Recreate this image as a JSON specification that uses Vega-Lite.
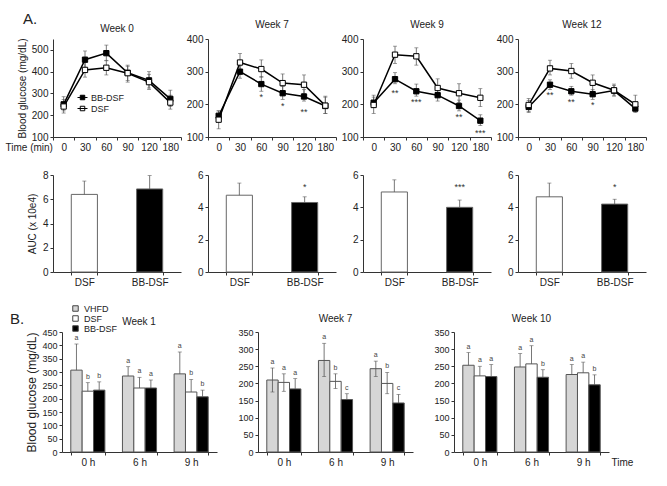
{
 "$schema": "https://vega.github.io/schema/vega-lite/v6.json",
 "padding": {"top": 12, "left": 5, "right": 5, "bottom": 5},
 "title": {"text": "A.", "anchor": "start", "fontSize": 15, "offset": -7, "dx": 18, "color": "#222"},
 "config": {
  "font": "Liberation Sans",
  "view": {"stroke": null},
  "axis": {"grid": false, "domainColor": "#333", "tickColor": "#333", "labelColor": "#222", "titleColor": "#222", "tickSize": 3, "labelFontSize": 10, "titleFontSize": 10, "titleFontWeight": "normal", "labelPadding": 2, "labelOverlap": false},
  "title": {"fontSize": 10, "fontWeight": "normal", "color": "#222", "offset": 0},
  "legend": {"labelFontSize": 9, "labelColor": "#222"}
 },
 "datasets": {
  "lines": [
   {"week":0,"time":0,"group":"BB-DSF","value":250,"lo":220,"hi":285},
   {"week":0,"time":30,"group":"BB-DSF","value":455,"lo":420,"hi":495},
   {"week":0,"time":60,"group":"BB-DSF","value":485,"lo":450,"hi":522},
   {"week":0,"time":90,"group":"BB-DSF","value":395,"lo":360,"hi":430},
   {"week":0,"time":120,"group":"BB-DSF","value":360,"lo":325,"hi":400},
   {"week":0,"time":180,"group":"BB-DSF","value":275,"lo":240,"hi":315},
   {"week":0,"time":0,"group":"DSF","value":240,"lo":210,"hi":272},
   {"week":0,"time":30,"group":"DSF","value":408,"lo":375,"hi":445},
   {"week":0,"time":60,"group":"DSF","value":418,"lo":385,"hi":452},
   {"week":0,"time":90,"group":"DSF","value":393,"lo":352,"hi":425},
   {"week":0,"time":120,"group":"DSF","value":352,"lo":318,"hi":388},
   {"week":0,"time":180,"group":"DSF","value":258,"lo":228,"hi":292},
   {"week":7,"time":0,"group":"BB-DSF","value":165,"lo":150,"hi":180},
   {"week":7,"time":30,"group":"BB-DSF","value":300,"lo":280,"hi":318},
   {"week":7,"time":60,"group":"BB-DSF","value":262,"lo":240,"hi":285,"star":"*","stary":222},
   {"week":7,"time":90,"group":"BB-DSF","value":234,"lo":215,"hi":255,"star":"*","stary":195},
   {"week":7,"time":120,"group":"BB-DSF","value":224,"lo":210,"hi":245,"star":"**","stary":178},
   {"week":7,"time":180,"group":"BB-DSF","value":195,"lo":172,"hi":222},
   {"week":7,"time":0,"group":"DSF","value":153,"lo":125,"hi":180},
   {"week":7,"time":30,"group":"DSF","value":328,"lo":298,"hi":356},
   {"week":7,"time":60,"group":"DSF","value":308,"lo":283,"hi":336},
   {"week":7,"time":90,"group":"DSF","value":265,"lo":240,"hi":293},
   {"week":7,"time":120,"group":"DSF","value":260,"lo":233,"hi":290},
   {"week":7,"time":180,"group":"DSF","value":196,"lo":172,"hi":225},
   {"week":9,"time":0,"group":"BB-DSF","value":205,"lo":190,"hi":228},
   {"week":9,"time":30,"group":"BB-DSF","value":277,"lo":263,"hi":297,"star":"**","stary":235},
   {"week":9,"time":60,"group":"BB-DSF","value":240,"lo":225,"hi":262,"star":"***","stary":207},
   {"week":9,"time":90,"group":"BB-DSF","value":228,"lo":210,"hi":250},
   {"week":9,"time":120,"group":"BB-DSF","value":195,"lo":180,"hi":213,"star":"**","stary":160},
   {"week":9,"time":180,"group":"BB-DSF","value":150,"lo":135,"hi":168,"star":"***","stary":112},
   {"week":9,"time":0,"group":"DSF","value":198,"lo":172,"hi":222},
   {"week":9,"time":30,"group":"DSF","value":352,"lo":325,"hi":378},
   {"week":9,"time":60,"group":"DSF","value":347,"lo":320,"hi":373},
   {"week":9,"time":90,"group":"DSF","value":250,"lo":225,"hi":278},
   {"week":9,"time":120,"group":"DSF","value":234,"lo":205,"hi":263},
   {"week":9,"time":180,"group":"DSF","value":220,"lo":193,"hi":248},
   {"week":12,"time":0,"group":"BB-DSF","value":192,"lo":175,"hi":212},
   {"week":12,"time":30,"group":"BB-DSF","value":260,"lo":245,"hi":275,"star":"**","stary":228},
   {"week":12,"time":60,"group":"BB-DSF","value":240,"lo":228,"hi":255,"star":"**","stary":208},
   {"week":12,"time":90,"group":"BB-DSF","value":231,"lo":215,"hi":245,"star":"*","stary":199},
   {"week":12,"time":120,"group":"BB-DSF","value":242,"lo":228,"hi":258},
   {"week":12,"time":180,"group":"BB-DSF","value":187,"lo":175,"hi":200},
   {"week":12,"time":0,"group":"DSF","value":198,"lo":178,"hi":218},
   {"week":12,"time":30,"group":"DSF","value":310,"lo":290,"hi":335},
   {"week":12,"time":60,"group":"DSF","value":302,"lo":280,"hi":325},
   {"week":12,"time":90,"group":"DSF","value":266,"lo":240,"hi":290},
   {"week":12,"time":120,"group":"DSF","value":243,"lo":225,"hi":262},
   {"week":12,"time":180,"group":"DSF","value":200,"lo":180,"hi":228}
  ],
  "auc": [
   {"week":0,"group":"DSF","value":6.4,"hi":7.5},
   {"week":0,"group":"BB-DSF","value":6.85,"hi":7.95},
   {"week":7,"group":"DSF","value":4.75,"hi":5.5},
   {"week":7,"group":"BB-DSF","value":4.3,"hi":4.65,"star":"*","stary":5.25},
   {"week":9,"group":"DSF","value":4.95,"hi":5.7},
   {"week":9,"group":"BB-DSF","value":4.0,"hi":4.45,"star":"***","stary":5.25},
   {"week":12,"group":"DSF","value":4.65,"hi":5.5},
   {"week":12,"group":"BB-DSF","value":4.2,"hi":4.5,"star":"*","stary":5.25}
  ],
  "bars": [
   {"week":1,"time":"0 h","group":"VHFD","value":307,"lo":307,"hi":405,"letter":"a"},
   {"week":1,"time":"0 h","group":"DSF","value":228,"lo":228,"hi":260,"letter":"b"},
   {"week":1,"time":"0 h","group":"BB-DSF","value":232,"lo":232,"hi":263,"letter":"b"},
   {"week":1,"time":"6 h","group":"VHFD","value":285,"lo":285,"hi":320,"letter":"a"},
   {"week":1,"time":"6 h","group":"DSF","value":240,"lo":240,"hi":280,"letter":"a"},
   {"week":1,"time":"6 h","group":"BB-DSF","value":240,"lo":240,"hi":270,"letter":"a"},
   {"week":1,"time":"9 h","group":"VHFD","value":293,"lo":293,"hi":375,"letter":"a"},
   {"week":1,"time":"9 h","group":"DSF","value":225,"lo":225,"hi":272,"letter":"b"},
   {"week":1,"time":"9 h","group":"BB-DSF","value":207,"lo":207,"hi":232,"letter":"b"},
   {"week":7,"time":"0 h","group":"VHFD","value":210,"lo":175,"hi":245,"letter":"a"},
   {"week":7,"time":"0 h","group":"DSF","value":203,"lo":177,"hi":228,"letter":"a"},
   {"week":7,"time":"0 h","group":"BB-DSF","value":184,"lo":184,"hi":214,"letter":"a"},
   {"week":7,"time":"6 h","group":"VHFD","value":267,"lo":220,"hi":317,"letter":"a"},
   {"week":7,"time":"6 h","group":"DSF","value":206,"lo":185,"hi":228,"letter":"b"},
   {"week":7,"time":"6 h","group":"BB-DSF","value":153,"lo":153,"hi":170,"letter":"c"},
   {"week":7,"time":"9 h","group":"VHFD","value":243,"lo":220,"hi":265,"letter":"a"},
   {"week":7,"time":"9 h","group":"DSF","value":200,"lo":170,"hi":232,"letter":"b"},
   {"week":7,"time":"9 h","group":"BB-DSF","value":143,"lo":143,"hi":168,"letter":"c"},
   {"week":10,"time":"0 h","group":"VHFD","value":253,"lo":253,"hi":290,"letter":"a"},
   {"week":10,"time":"0 h","group":"DSF","value":222,"lo":222,"hi":250,"letter":"a"},
   {"week":10,"time":"0 h","group":"BB-DSF","value":220,"lo":220,"hi":255,"letter":"a"},
   {"week":10,"time":"6 h","group":"VHFD","value":248,"lo":248,"hi":287,"letter":"a"},
   {"week":10,"time":"6 h","group":"DSF","value":257,"lo":257,"hi":310,"letter":"a"},
   {"week":10,"time":"6 h","group":"BB-DSF","value":218,"lo":218,"hi":240,"letter":"b"},
   {"week":10,"time":"9 h","group":"VHFD","value":226,"lo":226,"hi":255,"letter":"a"},
   {"week":10,"time":"9 h","group":"DSF","value":231,"lo":231,"hi":262,"letter":"a"},
   {"week":10,"time":"9 h","group":"BB-DSF","value":196,"lo":196,"hi":225,"letter":"b"}
  ]
 },
 "resolve": {"scale": {"fill": "independent"}, "legend": {"fill": "independent"}},
 "spacing": 17,
 "vconcat": [
  {
   "columns": 4,
   "spacing": {"row": 18, "column": 4},
   "resolve": {"scale": {"fill": "independent"}, "legend": {"fill": "independent"}},
   "concat": [
    {
     "width": 128, "height": 98, "title": "Week 0",
     "data": {"name": "lines"}, "transform": [{"filter": "datum.week == 0"}],
     "encoding": {"x": {"field": "time", "type": "ordinal", "bandPosition": 0.5, "scale": {"type": "band", "paddingInner": 0, "paddingOuter": 0}, "axis": {"title": "Time (min)", "labelAngle": 0, "tickBand": "extent", "titleX": -48, "titleY": 10, "titleAlign": "left", "titleBaseline": "middle"}}},
     "layer": [
      {"mark": {"type": "rule", "color": "#555", "strokeWidth": 0.8}, "encoding": {"y": {"field": "lo", "type": "quantitative", "scale": {"domain": [100, 550], "nice": false, "zero": false}, "axis": {"title": "Blood glucose (mg/dL)", "values": [100, 200, 300, 400, 500], "titlePadding": 4}}, "y2": {"field": "hi"}}},
      {"mark": {"type": "tick", "color": "#555", "thickness": 0.8, "size": 4}, "encoding": {"y": {"field": "hi", "type": "quantitative", "scale": {"domain": [100, 550], "nice": false, "zero": false}, "axis": {"title": "Blood glucose (mg/dL)", "values": [100, 200, 300, 400, 500], "titlePadding": 4}}}},
      {"mark": {"type": "tick", "color": "#555", "thickness": 0.8, "size": 4}, "encoding": {"y": {"field": "lo", "type": "quantitative", "scale": {"domain": [100, 550], "nice": false, "zero": false}, "axis": {"title": "Blood glucose (mg/dL)", "values": [100, 200, 300, 400, 500], "titlePadding": 4}}}},
      {"mark": {"type": "line", "color": "black", "strokeWidth": 1.5}, "encoding": {"y": {"field": "value", "type": "quantitative", "scale": {"domain": [100, 550], "nice": false, "zero": false}, "axis": {"title": "Blood glucose (mg/dL)", "values": [100, 200, 300, 400, 500], "titlePadding": 4}}, "detail": {"field": "group"}}},
      {"mark": {"type": "square", "size": 28, "stroke": "black", "strokeWidth": 1, "opacity": 1}, "encoding": {"y": {"field": "value", "type": "quantitative", "scale": {"domain": [100, 550], "nice": false, "zero": false}, "axis": {"title": "Blood glucose (mg/dL)", "values": [100, 200, 300, 400, 500], "titlePadding": 4}}, "fill": {"field": "group", "type": "nominal", "scale": {"domain": ["BB-DSF", "DSF"], "range": ["black", "white"]}, "legend": {"title": null, "orient": "none", "legendX": 24, "legendY": 53, "symbolType": "M-1,0H1M-0.45,-0.45H0.45V0.45H-0.45Z", "symbolSize": 100, "symbolStrokeColor": "black", "symbolStrokeWidth": 1, "rowPadding": -1, "labelOffset": 3}}}},
      {"transform": [{"filter": "isValid(datum.stary)"}], "mark": {"type": "text", "fontSize": 9, "color": "#333"}, "encoding": {"y": {"field": "stary", "type": "quantitative", "scale": {"domain": [100, 550], "nice": false, "zero": false}, "axis": {"title": "Blood glucose (mg/dL)", "values": [100, 200, 300, 400, 500], "titlePadding": 4}}, "text": {"field": "star"}}}
     ]
    },
    {
     "width": 128, "height": 98, "title": "Week 7",
     "data": {"name": "lines"}, "transform": [{"filter": "datum.week == 7"}],
     "encoding": {"x": {"field": "time", "type": "ordinal", "bandPosition": 0.5, "scale": {"type": "band", "paddingInner": 0, "paddingOuter": 0}, "axis": {"title": null, "labelAngle": 0, "tickBand": "extent"}}},
     "layer": [
      {"mark": {"type": "rule", "color": "#555", "strokeWidth": 0.8}, "encoding": {"y": {"field": "lo", "type": "quantitative", "scale": {"domain": [100, 400], "nice": false, "zero": false}, "axis": {"title": null, "values": [100, 200, 300, 400]}}, "y2": {"field": "hi"}}},
      {"mark": {"type": "tick", "color": "#555", "thickness": 0.8, "size": 4}, "encoding": {"y": {"field": "hi", "type": "quantitative", "scale": {"domain": [100, 400], "nice": false, "zero": false}, "axis": {"title": null, "values": [100, 200, 300, 400]}}}},
      {"mark": {"type": "tick", "color": "#555", "thickness": 0.8, "size": 4}, "encoding": {"y": {"field": "lo", "type": "quantitative", "scale": {"domain": [100, 400], "nice": false, "zero": false}, "axis": {"title": null, "values": [100, 200, 300, 400]}}}},
      {"mark": {"type": "line", "color": "black", "strokeWidth": 1.5}, "encoding": {"y": {"field": "value", "type": "quantitative", "scale": {"domain": [100, 400], "nice": false, "zero": false}, "axis": {"title": null, "values": [100, 200, 300, 400]}}, "detail": {"field": "group"}}},
      {"mark": {"type": "square", "size": 28, "stroke": "black", "strokeWidth": 1, "opacity": 1}, "encoding": {"y": {"field": "value", "type": "quantitative", "scale": {"domain": [100, 400], "nice": false, "zero": false}, "axis": {"title": null, "values": [100, 200, 300, 400]}}, "fill": {"field": "group", "type": "nominal", "scale": {"domain": ["BB-DSF", "DSF"], "range": ["black", "white"]}, "legend": null}}},
      {"transform": [{"filter": "isValid(datum.stary)"}], "mark": {"type": "text", "fontSize": 9, "color": "#333"}, "encoding": {"y": {"field": "stary", "type": "quantitative", "scale": {"domain": [100, 400], "nice": false, "zero": false}, "axis": {"title": null, "values": [100, 200, 300, 400]}}, "text": {"field": "star"}}}
     ]
    },
    {
     "width": 128, "height": 98, "title": "Week 9",
     "data": {"name": "lines"}, "transform": [{"filter": "datum.week == 9"}],
     "encoding": {"x": {"field": "time", "type": "ordinal", "bandPosition": 0.5, "scale": {"type": "band", "paddingInner": 0, "paddingOuter": 0}, "axis": {"title": null, "labelAngle": 0, "tickBand": "extent"}}},
     "layer": [
      {"mark": {"type": "rule", "color": "#555", "strokeWidth": 0.8}, "encoding": {"y": {"field": "lo", "type": "quantitative", "scale": {"domain": [100, 400], "nice": false, "zero": false}, "axis": {"title": null, "values": [100, 200, 300, 400]}}, "y2": {"field": "hi"}}},
      {"mark": {"type": "tick", "color": "#555", "thickness": 0.8, "size": 4}, "encoding": {"y": {"field": "hi", "type": "quantitative", "scale": {"domain": [100, 400], "nice": false, "zero": false}, "axis": {"title": null, "values": [100, 200, 300, 400]}}}},
      {"mark": {"type": "tick", "color": "#555", "thickness": 0.8, "size": 4}, "encoding": {"y": {"field": "lo", "type": "quantitative", "scale": {"domain": [100, 400], "nice": false, "zero": false}, "axis": {"title": null, "values": [100, 200, 300, 400]}}}},
      {"mark": {"type": "line", "color": "black", "strokeWidth": 1.5}, "encoding": {"y": {"field": "value", "type": "quantitative", "scale": {"domain": [100, 400], "nice": false, "zero": false}, "axis": {"title": null, "values": [100, 200, 300, 400]}}, "detail": {"field": "group"}}},
      {"mark": {"type": "square", "size": 28, "stroke": "black", "strokeWidth": 1, "opacity": 1}, "encoding": {"y": {"field": "value", "type": "quantitative", "scale": {"domain": [100, 400], "nice": false, "zero": false}, "axis": {"title": null, "values": [100, 200, 300, 400]}}, "fill": {"field": "group", "type": "nominal", "scale": {"domain": ["BB-DSF", "DSF"], "range": ["black", "white"]}, "legend": null}}},
      {"transform": [{"filter": "isValid(datum.stary)"}], "mark": {"type": "text", "fontSize": 9, "color": "#333"}, "encoding": {"y": {"field": "stary", "type": "quantitative", "scale": {"domain": [100, 400], "nice": false, "zero": false}, "axis": {"title": null, "values": [100, 200, 300, 400]}}, "text": {"field": "star"}}}
     ]
    },
    {
     "width": 128, "height": 98, "title": "Week 12",
     "data": {"name": "lines"}, "transform": [{"filter": "datum.week == 12"}],
     "encoding": {"x": {"field": "time", "type": "ordinal", "bandPosition": 0.5, "scale": {"type": "band", "paddingInner": 0, "paddingOuter": 0}, "axis": {"title": null, "labelAngle": 0, "tickBand": "extent"}}},
     "layer": [
      {"mark": {"type": "rule", "color": "#555", "strokeWidth": 0.8}, "encoding": {"y": {"field": "lo", "type": "quantitative", "scale": {"domain": [100, 400], "nice": false, "zero": false}, "axis": {"title": null, "values": [100, 200, 300, 400]}}, "y2": {"field": "hi"}}},
      {"mark": {"type": "tick", "color": "#555", "thickness": 0.8, "size": 4}, "encoding": {"y": {"field": "hi", "type": "quantitative", "scale": {"domain": [100, 400], "nice": false, "zero": false}, "axis": {"title": null, "values": [100, 200, 300, 400]}}}},
      {"mark": {"type": "tick", "color": "#555", "thickness": 0.8, "size": 4}, "encoding": {"y": {"field": "lo", "type": "quantitative", "scale": {"domain": [100, 400], "nice": false, "zero": false}, "axis": {"title": null, "values": [100, 200, 300, 400]}}}},
      {"mark": {"type": "line", "color": "black", "strokeWidth": 1.5}, "encoding": {"y": {"field": "value", "type": "quantitative", "scale": {"domain": [100, 400], "nice": false, "zero": false}, "axis": {"title": null, "values": [100, 200, 300, 400]}}, "detail": {"field": "group"}}},
      {"mark": {"type": "square", "size": 28, "stroke": "black", "strokeWidth": 1, "opacity": 1}, "encoding": {"y": {"field": "value", "type": "quantitative", "scale": {"domain": [100, 400], "nice": false, "zero": false}, "axis": {"title": null, "values": [100, 200, 300, 400]}}, "fill": {"field": "group", "type": "nominal", "scale": {"domain": ["BB-DSF", "DSF"], "range": ["black", "white"]}, "legend": null}}},
      {"transform": [{"filter": "isValid(datum.stary)"}], "mark": {"type": "text", "fontSize": 9, "color": "#333"}, "encoding": {"y": {"field": "stary", "type": "quantitative", "scale": {"domain": [100, 400], "nice": false, "zero": false}, "axis": {"title": null, "values": [100, 200, 300, 400]}}, "text": {"field": "star"}}}
     ]
    },
    {
     "width": 128, "height": 97,
     "data": {"name": "auc"}, "transform": [{"filter": "datum.week == 0"}],
     "encoding": {"x": {"field": "group", "type": "nominal", "sort": ["DSF", "BB-DSF"], "scale": {"type": "band", "paddingInner": 0.6, "paddingOuter": 0.28}, "axis": {"title": null, "labelAngle": 0, "tickBand": "extent"}}},
     "layer": [
      {"mark": {"type": "bar", "stroke": "#666", "strokeWidth": 1}, "encoding": {"y": {"field": "value", "type": "quantitative", "scale": {"domain": [0, 8], "nice": false}, "axis": {"title": "AUC (x 10e4)", "values": [0, 2, 4, 6, 8], "titlePadding": 5}}, "fill": {"field": "group", "type": "nominal", "scale": {"domain": ["DSF", "BB-DSF"], "range": ["white", "black"]}, "legend": null}}},
      {"mark": {"type": "rule", "color": "#555", "strokeWidth": 0.8}, "encoding": {"y": {"field": "value", "type": "quantitative", "scale": {"domain": [0, 8], "nice": false}, "axis": {"title": "AUC (x 10e4)", "values": [0, 2, 4, 6, 8], "titlePadding": 5}}, "y2": {"field": "hi"}}},
      {"mark": {"type": "tick", "color": "#555", "thickness": 0.8, "size": 4}, "encoding": {"y": {"field": "hi", "type": "quantitative", "scale": {"domain": [0, 8], "nice": false}, "axis": {"title": "AUC (x 10e4)", "values": [0, 2, 4, 6, 8], "titlePadding": 5}}}},
      {"transform": [{"filter": "isValid(datum.stary)"}], "mark": {"type": "text", "fontSize": 9, "color": "#333"}, "encoding": {"y": {"field": "stary", "type": "quantitative", "scale": {"domain": [0, 8], "nice": false}, "axis": {"title": "AUC (x 10e4)", "values": [0, 2, 4, 6, 8], "titlePadding": 5}}, "text": {"field": "star"}}}
     ]
    },
    {
     "width": 128, "height": 97,
     "data": {"name": "auc"}, "transform": [{"filter": "datum.week == 7"}],
     "encoding": {"x": {"field": "group", "type": "nominal", "sort": ["DSF", "BB-DSF"], "scale": {"type": "band", "paddingInner": 0.6, "paddingOuter": 0.28}, "axis": {"title": null, "labelAngle": 0, "tickBand": "extent"}}},
     "layer": [
      {"mark": {"type": "bar", "stroke": "#666", "strokeWidth": 1}, "encoding": {"y": {"field": "value", "type": "quantitative", "scale": {"domain": [0, 6], "nice": false}, "axis": {"title": null, "values": [0, 2, 4, 6]}}, "fill": {"field": "group", "type": "nominal", "scale": {"domain": ["DSF", "BB-DSF"], "range": ["white", "black"]}, "legend": null}}},
      {"mark": {"type": "rule", "color": "#555", "strokeWidth": 0.8}, "encoding": {"y": {"field": "value", "type": "quantitative", "scale": {"domain": [0, 6], "nice": false}, "axis": {"title": null, "values": [0, 2, 4, 6]}}, "y2": {"field": "hi"}}},
      {"mark": {"type": "tick", "color": "#555", "thickness": 0.8, "size": 4}, "encoding": {"y": {"field": "hi", "type": "quantitative", "scale": {"domain": [0, 6], "nice": false}, "axis": {"title": null, "values": [0, 2, 4, 6]}}}},
      {"transform": [{"filter": "isValid(datum.stary)"}], "mark": {"type": "text", "fontSize": 9, "color": "#333"}, "encoding": {"y": {"field": "stary", "type": "quantitative", "scale": {"domain": [0, 6], "nice": false}, "axis": {"title": null, "values": [0, 2, 4, 6]}}, "text": {"field": "star"}}}
     ]
    },
    {
     "width": 128, "height": 97,
     "data": {"name": "auc"}, "transform": [{"filter": "datum.week == 9"}],
     "encoding": {"x": {"field": "group", "type": "nominal", "sort": ["DSF", "BB-DSF"], "scale": {"type": "band", "paddingInner": 0.6, "paddingOuter": 0.28}, "axis": {"title": null, "labelAngle": 0, "tickBand": "extent"}}},
     "layer": [
      {"mark": {"type": "bar", "stroke": "#666", "strokeWidth": 1}, "encoding": {"y": {"field": "value", "type": "quantitative", "scale": {"domain": [0, 6], "nice": false}, "axis": {"title": null, "values": [0, 2, 4, 6]}}, "fill": {"field": "group", "type": "nominal", "scale": {"domain": ["DSF", "BB-DSF"], "range": ["white", "black"]}, "legend": null}}},
      {"mark": {"type": "rule", "color": "#555", "strokeWidth": 0.8}, "encoding": {"y": {"field": "value", "type": "quantitative", "scale": {"domain": [0, 6], "nice": false}, "axis": {"title": null, "values": [0, 2, 4, 6]}}, "y2": {"field": "hi"}}},
      {"mark": {"type": "tick", "color": "#555", "thickness": 0.8, "size": 4}, "encoding": {"y": {"field": "hi", "type": "quantitative", "scale": {"domain": [0, 6], "nice": false}, "axis": {"title": null, "values": [0, 2, 4, 6]}}}},
      {"transform": [{"filter": "isValid(datum.stary)"}], "mark": {"type": "text", "fontSize": 9, "color": "#333"}, "encoding": {"y": {"field": "stary", "type": "quantitative", "scale": {"domain": [0, 6], "nice": false}, "axis": {"title": null, "values": [0, 2, 4, 6]}}, "text": {"field": "star"}}}
     ]
    },
    {
     "width": 128, "height": 97,
     "data": {"name": "auc"}, "transform": [{"filter": "datum.week == 12"}],
     "encoding": {"x": {"field": "group", "type": "nominal", "sort": ["DSF", "BB-DSF"], "scale": {"type": "band", "paddingInner": 0.6, "paddingOuter": 0.28}, "axis": {"title": null, "labelAngle": 0, "tickBand": "extent"}}},
     "layer": [
      {"mark": {"type": "bar", "stroke": "#666", "strokeWidth": 1}, "encoding": {"y": {"field": "value", "type": "quantitative", "scale": {"domain": [0, 6], "nice": false}, "axis": {"title": null, "values": [0, 2, 4, 6]}}, "fill": {"field": "group", "type": "nominal", "scale": {"domain": ["DSF", "BB-DSF"], "range": ["white", "black"]}, "legend": null}}},
      {"mark": {"type": "rule", "color": "#555", "strokeWidth": 0.8}, "encoding": {"y": {"field": "value", "type": "quantitative", "scale": {"domain": [0, 6], "nice": false}, "axis": {"title": null, "values": [0, 2, 4, 6]}}, "y2": {"field": "hi"}}},
      {"mark": {"type": "tick", "color": "#555", "thickness": 0.8, "size": 4}, "encoding": {"y": {"field": "hi", "type": "quantitative", "scale": {"domain": [0, 6], "nice": false}, "axis": {"title": null, "values": [0, 2, 4, 6]}}}},
      {"transform": [{"filter": "isValid(datum.stary)"}], "mark": {"type": "text", "fontSize": 9, "color": "#333"}, "encoding": {"y": {"field": "stary", "type": "quantitative", "scale": {"domain": [0, 6], "nice": false}, "axis": {"title": null, "values": [0, 2, 4, 6]}}, "text": {"field": "star"}}}
     ]
    }
   ]
  },
  {
   "spacing": 20,
   "resolve": {"scale": {"fill": "independent"}, "legend": {"fill": "independent"}},
   "hconcat": [
    {
     "width": 164, "height": 120, "title": {"text": "Week 1", "offset": -23, "dx": 4},
     "data": {"name": "bars"}, "transform": [{"filter": "datum.week == 1"}],
     "encoding": {
      "x": {"field": "time", "type": "nominal", "scale": {"type": "band", "paddingInner": 0.34, "paddingOuter": 0.17, "range": [9, 164]}, "axis": {"title": null, "labelAngle": 0, "tickBand": "extent"}},
      "xOffset": {"field": "group", "type": "nominal", "sort": ["VHFD", "DSF", "BB-DSF"], "scale": {"paddingInner": 0, "paddingOuter": 0}}
     },
     "layer": [
      {"mark": {"type": "bar", "stroke": "#555", "strokeWidth": 1}, "encoding": {"y": {"field": "value", "type": "quantitative", "scale": {"domain": [0, 450], "nice": false}, "axis": {"title": "Blood glucose (mg/dL)", "offset": -9, "values": [0, 50, 100, 150, 200, 250, 300, 350, 400, 450], "labelFontSize": 9, "titleFontSize": 12, "titlePadding": 3}}, "fill": {"field": "group", "type": "nominal", "scale": {"domain": ["VHFD", "DSF", "BB-DSF"], "range": ["#d6d6d6", "white", "black"]}, "legend": {"title": "B.", "titleOrient": "left", "titleFontSize": 15, "titleFontWeight": "normal", "titleColor": "#222", "titlePadding": 46, "titleAnchor": "middle", "titleBaseline": "middle", "orient": "none", "legendX": -43, "legendY": -28, "symbolType": "square", "symbolSize": 30, "symbolStrokeColor": "#444", "symbolStrokeWidth": 1, "rowPadding": -2, "labelOffset": 4}}}},
      {"mark": {"type": "rule", "color": "#555", "strokeWidth": 0.8}, "encoding": {"y": {"field": "lo", "type": "quantitative", "scale": {"domain": [0, 450], "nice": false}, "axis": {"title": "Blood glucose (mg/dL)", "offset": -9, "values": [0, 50, 100, 150, 200, 250, 300, 350, 400, 450], "labelFontSize": 9, "titleFontSize": 12, "titlePadding": 3}}, "y2": {"field": "hi"}}},
      {"mark": {"type": "tick", "color": "#555", "thickness": 0.8, "size": 4}, "encoding": {"y": {"field": "hi", "type": "quantitative", "scale": {"domain": [0, 450], "nice": false}, "axis": {"title": "Blood glucose (mg/dL)", "offset": -9, "values": [0, 50, 100, 150, 200, 250, 300, 350, 400, 450], "labelFontSize": 9, "titleFontSize": 12, "titlePadding": 3}}}},
      {"transform": [{"filter": "datum.lo < datum.value"}], "mark": {"type": "tick", "color": "#555", "thickness": 0.8, "size": 4}, "encoding": {"y": {"field": "lo", "type": "quantitative", "scale": {"domain": [0, 450], "nice": false}, "axis": {"title": "Blood glucose (mg/dL)", "offset": -9, "values": [0, 50, 100, 150, 200, 250, 300, 350, 400, 450], "labelFontSize": 9, "titleFontSize": 12, "titlePadding": 3}}}},
      {"mark": {"type": "text", "fontSize": 7, "color": "#444", "baseline": "bottom", "dy": -3}, "encoding": {"y": {"field": "hi", "type": "quantitative", "scale": {"domain": [0, 450], "nice": false}, "axis": {"title": "Blood glucose (mg/dL)", "offset": -9, "values": [0, 50, 100, 150, 200, 250, 300, 350, 400, 450], "labelFontSize": 9, "titleFontSize": 12, "titlePadding": 3}}, "text": {"field": "letter"}}}
     ]
    },
    {
     "width": 155, "height": 120, "title": "Week 7",
     "data": {"name": "bars"}, "transform": [{"filter": "datum.week == 7"}],
     "encoding": {
      "x": {"field": "time", "type": "nominal", "scale": {"type": "band", "paddingInner": 0.34, "paddingOuter": 0.17}, "axis": {"title": null, "labelAngle": 0, "tickBand": "extent"}},
      "xOffset": {"field": "group", "type": "nominal", "sort": ["VHFD", "DSF", "BB-DSF"], "scale": {"paddingInner": 0, "paddingOuter": 0}}
     },
     "layer": [
      {"mark": {"type": "bar", "stroke": "#555", "strokeWidth": 1}, "encoding": {"y": {"field": "value", "type": "quantitative", "scale": {"domain": [0, 350], "nice": false}, "axis": {"title": null, "values": [0, 50, 100, 150, 200, 250, 300, 350], "labelFontSize": 9}}, "fill": {"field": "group", "type": "nominal", "scale": {"domain": ["VHFD", "DSF", "BB-DSF"], "range": ["#d6d6d6", "white", "black"]}, "legend": null}}},
      {"mark": {"type": "rule", "color": "#555", "strokeWidth": 0.8}, "encoding": {"y": {"field": "lo", "type": "quantitative", "scale": {"domain": [0, 350], "nice": false}, "axis": {"title": null, "values": [0, 50, 100, 150, 200, 250, 300, 350], "labelFontSize": 9}}, "y2": {"field": "hi"}}},
      {"mark": {"type": "tick", "color": "#555", "thickness": 0.8, "size": 4}, "encoding": {"y": {"field": "hi", "type": "quantitative", "scale": {"domain": [0, 350], "nice": false}, "axis": {"title": null, "values": [0, 50, 100, 150, 200, 250, 300, 350], "labelFontSize": 9}}}},
      {"transform": [{"filter": "datum.lo < datum.value"}], "mark": {"type": "tick", "color": "#555", "thickness": 0.8, "size": 4}, "encoding": {"y": {"field": "lo", "type": "quantitative", "scale": {"domain": [0, 350], "nice": false}, "axis": {"title": null, "values": [0, 50, 100, 150, 200, 250, 300, 350], "labelFontSize": 9}}}},
      {"mark": {"type": "text", "fontSize": 7, "color": "#444", "baseline": "bottom", "dy": -3}, "encoding": {"y": {"field": "hi", "type": "quantitative", "scale": {"domain": [0, 350], "nice": false}, "axis": {"title": null, "values": [0, 50, 100, 150, 200, 250, 300, 350], "labelFontSize": 9}}, "text": {"field": "letter"}}}
     ]
    },
    {
     "width": 155, "height": 120, "title": "Week 10",
     "data": {"name": "bars"}, "transform": [{"filter": "datum.week == 10"}],
     "encoding": {
      "x": {"field": "time", "type": "nominal", "scale": {"type": "band", "paddingInner": 0.34, "paddingOuter": 0.17}, "axis": {"title": "Time", "labelAngle": 0, "tickBand": "extent", "titleX": 157, "titleY": 10, "titleAlign": "left", "titleBaseline": "middle"}},
      "xOffset": {"field": "group", "type": "nominal", "sort": ["VHFD", "DSF", "BB-DSF"], "scale": {"paddingInner": 0, "paddingOuter": 0}}
     },
     "layer": [
      {"mark": {"type": "bar", "stroke": "#555", "strokeWidth": 1}, "encoding": {"y": {"field": "value", "type": "quantitative", "scale": {"domain": [0, 350], "nice": false}, "axis": {"title": null, "values": [0, 50, 100, 150, 200, 250, 300, 350], "labelFontSize": 9}}, "fill": {"field": "group", "type": "nominal", "scale": {"domain": ["VHFD", "DSF", "BB-DSF"], "range": ["#d6d6d6", "white", "black"]}, "legend": null}}},
      {"mark": {"type": "rule", "color": "#555", "strokeWidth": 0.8}, "encoding": {"y": {"field": "lo", "type": "quantitative", "scale": {"domain": [0, 350], "nice": false}, "axis": {"title": null, "values": [0, 50, 100, 150, 200, 250, 300, 350], "labelFontSize": 9}}, "y2": {"field": "hi"}}},
      {"mark": {"type": "tick", "color": "#555", "thickness": 0.8, "size": 4}, "encoding": {"y": {"field": "hi", "type": "quantitative", "scale": {"domain": [0, 350], "nice": false}, "axis": {"title": null, "values": [0, 50, 100, 150, 200, 250, 300, 350], "labelFontSize": 9}}}},
      {"transform": [{"filter": "datum.lo < datum.value"}], "mark": {"type": "tick", "color": "#555", "thickness": 0.8, "size": 4}, "encoding": {"y": {"field": "lo", "type": "quantitative", "scale": {"domain": [0, 350], "nice": false}, "axis": {"title": null, "values": [0, 50, 100, 150, 200, 250, 300, 350], "labelFontSize": 9}}}},
      {"mark": {"type": "text", "fontSize": 7, "color": "#444", "baseline": "bottom", "dy": -3}, "encoding": {"y": {"field": "hi", "type": "quantitative", "scale": {"domain": [0, 350], "nice": false}, "axis": {"title": null, "values": [0, 50, 100, 150, 200, 250, 300, 350], "labelFontSize": 9}}, "text": {"field": "letter"}}}
     ]
    }
   ]
  }
 ]
}
